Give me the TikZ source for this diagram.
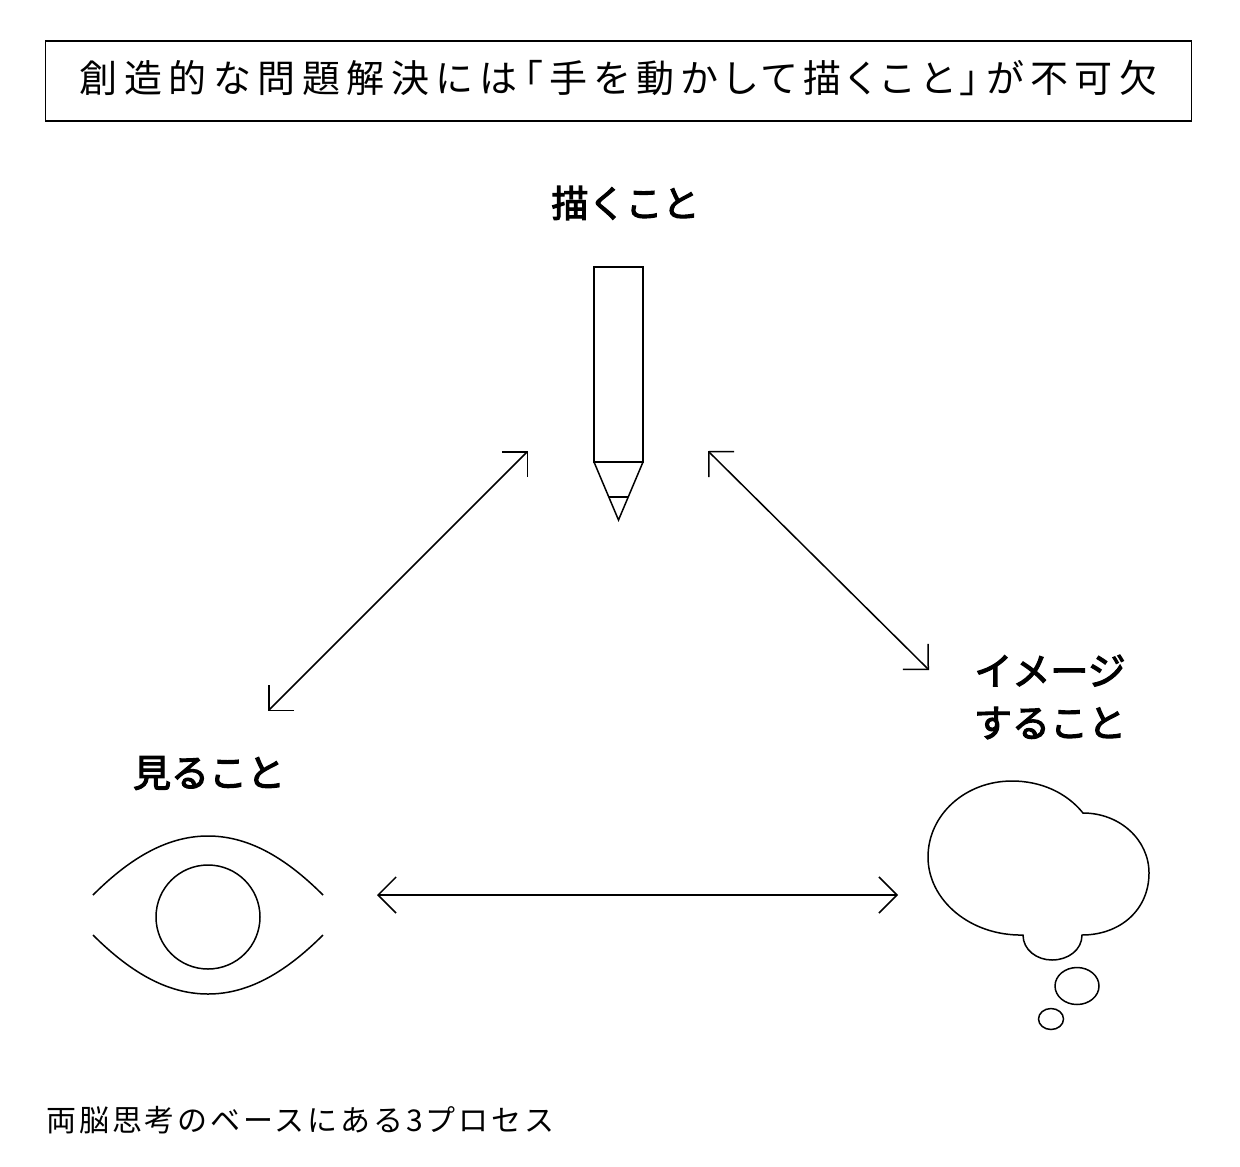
\documentclass[tikz,border=0pt]{standalone}
\usepackage{fontspec}
\newfontfamily\jphead{Noto Sans CJK JP}[FakeBold=3]
\newfontfamily\jptitle{Noto Sans CJK JP}[LetterSpace=17.5,RawFeature={+palt}]
\newfontfamily\jpnote{Noto Sans CJK JP}[LetterSpace=9.5]
\usetikzlibrary{arrows.meta,positioning}

\begin{document}
\begin{tikzpicture}[
    x=0.5pt, y=-0.5pt,
    titlebox/.style={rectangle, draw=black, line width=0.6pt, font=\jptitle\fontsize{19}{23}\selectfont,
                     minimum width=573pt, minimum height=40pt, inner sep=0pt, align=center},
    heading/.style={font=\jphead\fontsize{19}{26}\selectfont, align=center, inner sep=0pt},
    note/.style={font=\jpnote\fontsize{15}{18}\selectfont, inner sep=0pt, anchor=west},
    outline/.style={draw=black, line width=0.75pt, line join=miter},
    arr/.style={{Straight Barb[length=9pt,width=18pt]}-{Straight Barb[length=9pt,width=18pt]}, line width=0.75pt},
]
\useasboundingbox (0,0) rectangle (1240,1166);

\node[titlebox] (title) at (618.5,81) {\raisebox{5pt}{創造的な問題解決には「手を動かして描くこと」が不可欠}};
\node[heading] (drawing) at (625.5,203) {\fontsize{18.5}{26}\selectfont 描くこと};
\node[heading] (seeing) at (209,773) {見ること};
\node[heading] (imagining) at (1050,697) {イメージ\\すること};
\node[note] (caption) at (46,1120) {両脳思考のベースにある3プロセス};

% pencil
\draw[outline] (594,267) rectangle (643,462);
\draw[outline] (594,462) -- (618.5,520) -- (643,462);
\draw[outline] (609,497) -- (628,497);

% eye
\draw[outline] (93,895) .. controls (133,855) and (170,836) .. (208,836)
    .. controls (246,836) and (283,855) .. (323,895);
\draw[outline] (93,935) .. controls (133,975) and (170,994) .. (208,994)
    .. controls (246,994) and (283,975) .. (323,935);
\draw[outline] (208,917) circle (52);

% thought bubble
\draw[outline] (1083,813) .. controls (1066,792) and (1040,781) .. (1012,781)
    .. controls (965,781) and (928,815) .. (928,857)
    .. controls (928,900) and (970,936) .. (1023,935)
    .. controls (1023,950) and (1037,960) .. (1052,960)
    .. controls (1068,960) and (1082,950) .. (1082,935)
    .. controls (1120,935) and (1149,910) .. (1149,873)
    .. controls (1149,840) and (1120,813) .. (1083,813) -- cycle;
\draw[outline] (1077,986) ellipse (22 and 18.5);
\draw[outline] (1051,1019) ellipse (12.5 and 10.5);

\coordinate (pencilLeft) at (528,451);
\coordinate (eyeTop) at (268,711);
\coordinate (pencilRight) at (708,451);
\coordinate (cloudTop) at (929,670);
\coordinate (eyeRight) at (377,895);
\coordinate (cloudLeft) at (898,895);

\draw[arr] (eyeTop) -- (pencilLeft);
\draw[arr] (pencilRight) -- (cloudTop);
\draw[arr] (eyeRight) -- (cloudLeft);
\end{tikzpicture}
\end{document}
